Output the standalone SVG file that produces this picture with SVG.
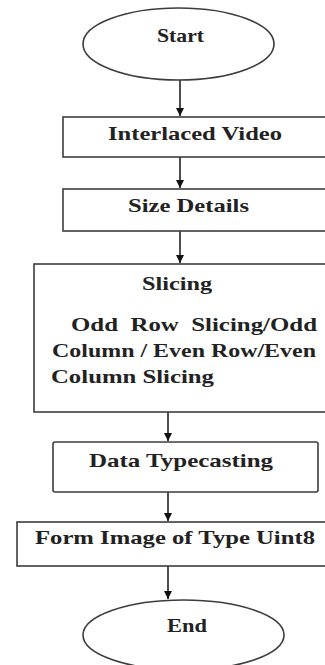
<svg xmlns="http://www.w3.org/2000/svg" width="325" height="665" viewBox="0 0 325 665">
<style>
.shape{fill:#fff;stroke:#3c3c3c;stroke-width:1.6}
.t{font-family:"Liberation Serif","Times New Roman",serif;font-weight:bold;font-size:19px;fill:#222}
.c{stroke:#222;stroke-width:1.6;fill:none}
</style>
<defs>
<marker id="ah" markerWidth="10" markerHeight="10" refX="8" refY="4" orient="auto" markerUnits="userSpaceOnUse">
<path d="M0,0 L8,4 L0,8 Z" fill="#111"/>
</marker>
</defs>
<rect width="325" height="665" fill="#fff"/>
<g id="connectors">
<line class="c" x1="180" y1="80" x2="180" y2="116" marker-end="url(#ah)"/>
<line class="c" x1="180" y1="157" x2="180" y2="188" marker-end="url(#ah)"/>
<line class="c" x1="180" y1="231" x2="180" y2="263" marker-end="url(#ah)"/>
<line class="c" x1="168" y1="412" x2="168" y2="441" marker-end="url(#ah)"/>
<line class="c" x1="168" y1="492" x2="168" y2="521" marker-end="url(#ah)"/>
<line class="c" x1="168" y1="566" x2="168" y2="599" marker-end="url(#ah)"/>
</g>
<g id="start">
<ellipse class="shape" cx="178.5" cy="44" rx="95.5" ry="36"/>
<text class="t" x="157" y="42" textLength="47" lengthAdjust="spacingAndGlyphs">Start</text>
</g>
<g id="interlaced">
<rect class="shape" x="63" y="117" width="280" height="40"/>
<text class="t" x="108" y="140" textLength="174" lengthAdjust="spacingAndGlyphs">Interlaced Video</text>
</g>
<g id="size">
<rect class="shape" x="63" y="189" width="280" height="42"/>
<text class="t" x="128" y="212" textLength="121" lengthAdjust="spacingAndGlyphs">Size Details</text>
</g>
<g id="slicing">
<rect class="shape" x="34" y="264" width="310" height="148"/>
<text class="t" x="142" y="290" textLength="70" lengthAdjust="spacingAndGlyphs">Slicing</text>
<text class="t" x="71" y="331" textLength="246" lengthAdjust="spacingAndGlyphs" xml:space="preserve">Odd  Row  Slicing/Odd</text>
<text class="t" x="52" y="357" textLength="264" lengthAdjust="spacingAndGlyphs">Column / Even Row/Even</text>
<text class="t" x="51" y="383" textLength="163" lengthAdjust="spacingAndGlyphs">Column Slicing</text>
</g>
<g id="typecasting">
<rect class="shape" x="53" y="442" width="265" height="50" rx="2"/>
<text class="t" x="89" y="467" textLength="184" lengthAdjust="spacingAndGlyphs">Data Typecasting</text>
</g>
<g id="form">
<rect class="shape" x="17" y="522" width="320" height="44"/>
<text class="t" x="35" y="544" textLength="280" lengthAdjust="spacingAndGlyphs">Form Image of Type Uint8</text>
</g>
<g id="end">
<ellipse class="shape" cx="183.5" cy="635" rx="100.5" ry="35"/>
<text class="t" x="167" y="632" textLength="40" lengthAdjust="spacingAndGlyphs">End</text>
</g>
</svg>
